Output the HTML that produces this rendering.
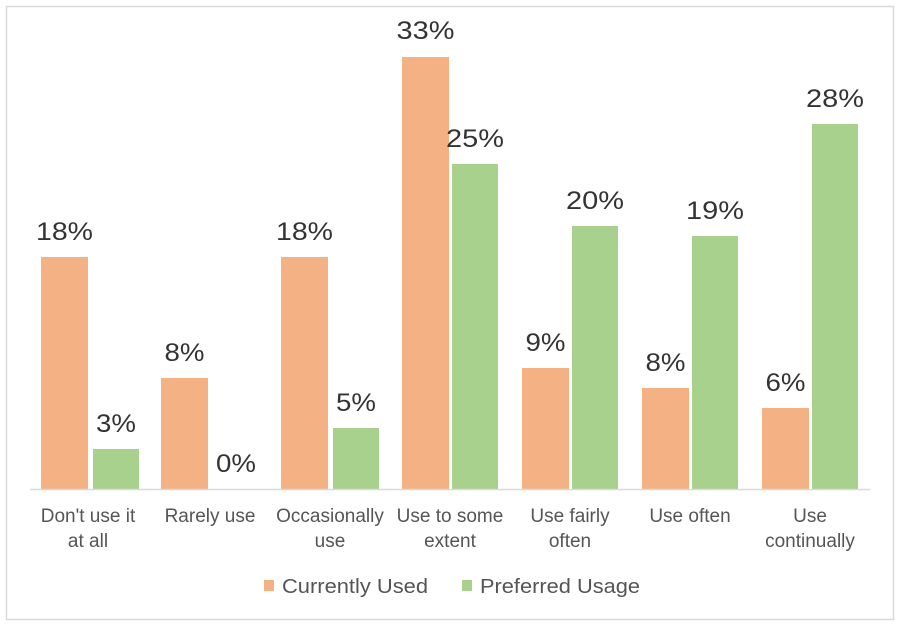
<!DOCTYPE html>
<html><head><meta charset="utf-8"><style>
html,body{margin:0;padding:0;background:#fff;}
svg{display:block;font-family:"Liberation Sans",Arial,sans-serif;}
</style></head><body>
<svg width="902" height="628" viewBox="0 0 902 628" xmlns="http://www.w3.org/2000/svg">
<rect x="6.5" y="6.5" width="887" height="613" fill="#fff" stroke="#d9d9d9" stroke-width="1.5"/>
<g fill="#F4B183">
<rect x="41" y="257" width="47" height="232"/>
<rect x="161" y="378" width="47" height="111"/>
<rect x="281" y="257" width="47" height="232"/>
<rect x="402" y="57" width="47" height="432"/>
<rect x="522" y="368" width="47" height="121"/>
<rect x="642" y="388" width="47" height="101"/>
<rect x="762" y="408" width="47" height="81"/>
</g>
<g fill="#A9D18E">
<rect x="93" y="449" width="46" height="40"/>
<rect x="333" y="428" width="46" height="61"/>
<rect x="452" y="164" width="46" height="325"/>
<rect x="572" y="226" width="46" height="263"/>
<rect x="692" y="236" width="46" height="253"/>
<rect x="812" y="124" width="46" height="365"/>
</g>
<line x1="30" y1="489.5" x2="870" y2="489.5" stroke="#d9d9d9" stroke-width="1.5"/>
<g fill="#333" font-size="25" text-anchor="middle" lengthAdjust="spacingAndGlyphs">
<text x="64.5" y="240" textLength="57" lengthAdjust="spacingAndGlyphs">18%</text>
<text x="184.5" y="361" textLength="40" lengthAdjust="spacingAndGlyphs">8%</text>
<text x="304.5" y="240" textLength="57" lengthAdjust="spacingAndGlyphs">18%</text>
<text x="425.5" y="39" textLength="58" lengthAdjust="spacingAndGlyphs">33%</text>
<text x="545.5" y="351" textLength="40" lengthAdjust="spacingAndGlyphs">9%</text>
<text x="665.5" y="371" textLength="40" lengthAdjust="spacingAndGlyphs">8%</text>
<text x="785.5" y="391" textLength="40" lengthAdjust="spacingAndGlyphs">6%</text>
<text x="116" y="432" textLength="40" lengthAdjust="spacingAndGlyphs">3%</text>
<text x="236" y="472" textLength="40" lengthAdjust="spacingAndGlyphs">0%</text>
<text x="356" y="411" textLength="40" lengthAdjust="spacingAndGlyphs">5%</text>
<text x="475" y="147" textLength="58" lengthAdjust="spacingAndGlyphs">25%</text>
<text x="595" y="209" textLength="58" lengthAdjust="spacingAndGlyphs">20%</text>
<text x="715" y="219" textLength="58" lengthAdjust="spacingAndGlyphs">19%</text>
<text x="835" y="107" textLength="58" lengthAdjust="spacingAndGlyphs">28%</text>
</g>
<g fill="#555" font-size="19" text-anchor="middle">
<text x="88" y="522">Don't use it</text><text x="88" y="547">at all</text>
<text x="210" y="522">Rarely use</text>
<text x="330" y="522">Occasionally</text><text x="330" y="547">use</text>
<text x="450" y="522">Use to some</text><text x="450" y="547">extent</text>
<text x="570" y="522">Use fairly</text><text x="570" y="547">often</text>
<text x="690" y="522">Use often</text>
<text x="810" y="522">Use</text><text x="810" y="547">continually</text>
</g>
<rect x="264" y="580" width="10" height="11" fill="#F4B183"/>
<rect x="462" y="580" width="10" height="11" fill="#A9D18E"/>
<g fill="#555" font-size="20.5">
<text x="282" y="593" textLength="146" lengthAdjust="spacingAndGlyphs">Currently Used</text>
<text x="480" y="593" textLength="160" lengthAdjust="spacingAndGlyphs">Preferred Usage</text>
</g>
</svg>
</body></html>
